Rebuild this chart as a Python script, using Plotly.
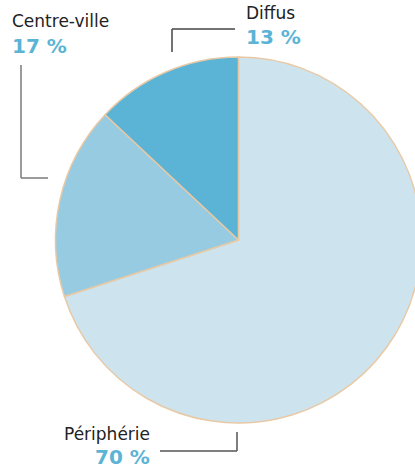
import plotly.graph_objects as go

labels = ["Périphérie", "Centre-ville", "Diffus"]
values = [70, 17, 13]
colors = ["#cde4ef", "#97cbe2", "#5bb4d5"]

W, H = 422, 469

def px(x):
    return x / W

def py(y):
    return 1 - y / H

fig = go.Figure(go.Pie(
    labels=labels, values=values, sort=False, direction="clockwise", rotation=0,
    marker=dict(colors=colors, line=dict(color="#e8c9a5", width=1.5)),
    textinfo="none", hoverinfo="label+percent",
    domain=dict(x=[px(55), 1], y=[py(423), py(57)]),
))

font_name = "DejaVu Sans, sans-serif"
pct_color = "#5bb4d5"
ann = []
def label(x, y, text, anchor, size, color, bold=False):
    ann.append(dict(x=px(x), y=py(y), xref="paper", yref="paper", text=("<b>%s</b>" % text) if bold else text,
                    showarrow=False, xanchor=anchor, yanchor="middle",
                    font=dict(family=font_name, size=size, color=color)))

label(10, 21, "Centre-ville", "left", 17, "#222")
label(10, 46, f"{values[1]} %", "left", 20, pct_color, True)
label(244, 13, "Diffus", "left", 17, "#222")
label(244, 37, f"{values[2]} %", "left", 20, pct_color, True)
label(152, 434, "Périphérie", "right", 17, "#222")
label(152, 457, f"{values[0]} %", "right", 20, pct_color, True)

shapes = []
def seg(x0, y0, x1, y1, color="#7a7a7a"):
    shapes.append(dict(type="line", xref="paper", yref="paper", x0=px(x0), y0=py(y0), x1=px(x1), y1=py(y1),
                       line=dict(color=color, width=1.5)))

seg(21, 65, 21, 178); seg(21, 178, 48, 178)
seg(172, 29, 235, 29, "#444"); seg(172, 29, 172, 52, "#444")
seg(160, 451, 237, 451, "#555"); seg(237, 432, 237, 451, "#555")

fig.update_layout(width=W, height=H, margin=dict(l=0, r=0, t=0, b=0), showlegend=False,
                  paper_bgcolor="white", plot_bgcolor="white", annotations=ann, shapes=shapes)

fig.write_html("out.html", config={"displayModeBar": False},
               post_script="document.body.style.overflow='hidden';document.body.style.margin='0';")
